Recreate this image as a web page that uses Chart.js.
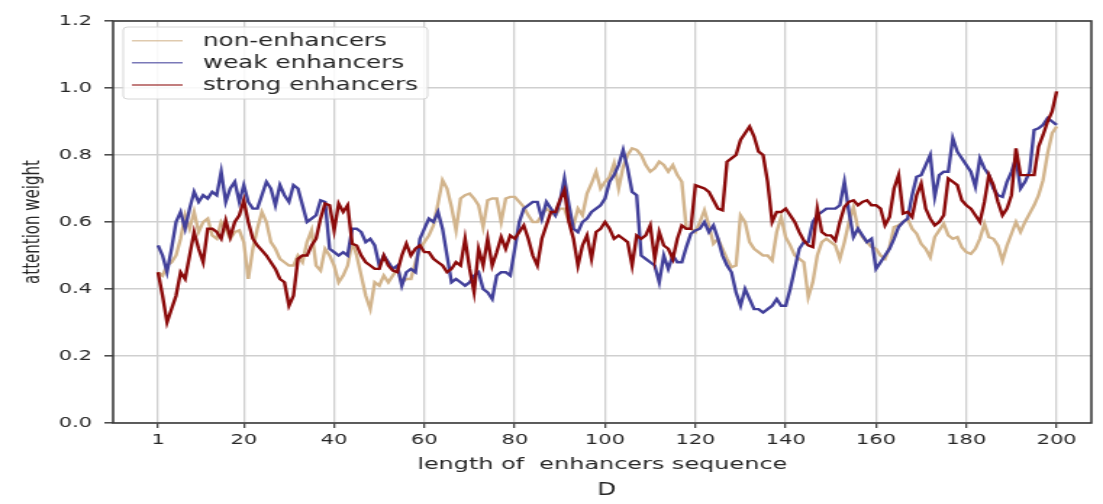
<!DOCTYPE html>
<html>
<head>
<meta charset="utf-8">
<script src="https://cdn.jsdelivr.net/npm/chart.js@4/dist/chart.umd.min.js"></script>
<style>
  html, body { margin: 0; padding: 0; background: #fff; overflow: hidden; }
  /* the figure is laid out on a narrower canvas and widened to the page */
  #wrap { position: absolute; left: 0; top: 0; width: 761px; height: 504px;
          transform: scaleX(1.4494); transform-origin: 0 0; filter: blur(0.5px); }
  canvas { display: block; }
</style>
</head>
<body>
<div id="wrap"><canvas id="c" width="761" height="504"></canvas></div>
<script>
// sequence positions 1..200
const positions = Array.from({ length: 200 }, (_, i) => i + 1);

const nonEnhancers = [
  0.45,0.44,0.47,0.48,0.50,0.55,0.62,0.58,0.63,0.57,
  0.60,0.61,0.56,0.55,0.60,0.58,0.55,0.57,0.575,0.54,
  0.43,0.52,0.58,0.63,0.60,0.54,0.52,0.49,0.48,0.47,
  0.47,0.50,0.48,0.54,0.575,0.47,0.455,0.52,0.50,0.47,
  0.42,0.44,0.47,0.54,0.50,0.44,0.38,0.34,0.42,0.41,
  0.44,0.42,0.44,0.46,0.42,0.43,0.43,0.48,0.52,0.54,
  0.56,0.59,0.655,0.725,0.70,0.645,0.575,0.67,0.68,0.685,
  0.67,0.65,0.585,0.665,0.67,0.67,0.60,0.67,0.675,0.675,
  0.66,0.645,0.62,0.60,0.60,0.62,0.64,0.63,0.62,0.64,
  0.64,0.60,0.59,0.64,0.62,0.685,0.715,0.75,0.70,0.72,
  0.735,0.775,0.70,0.765,0.80,0.82,0.815,0.80,0.77,0.75,
  0.76,0.78,0.77,0.75,0.77,0.74,0.72,0.58,0.58,0.57,
  0.60,0.635,0.59,0.535,0.55,0.52,0.49,0.465,0.47,0.62,
  0.60,0.54,0.52,0.51,0.50,0.50,0.485,0.57,0.615,0.555,
  0.53,0.50,0.49,0.48,0.375,0.42,0.50,0.54,0.55,0.54,
  0.53,0.49,0.54,0.60,0.645,0.58,0.555,0.54,0.525,0.52,
  0.50,0.49,0.525,0.585,0.59,0.60,0.61,0.58,0.565,0.535,
  0.52,0.495,0.555,0.575,0.595,0.56,0.55,0.555,0.525,0.51,
  0.505,0.52,0.55,0.595,0.555,0.55,0.53,0.485,0.53,0.565,
  0.60,0.57,0.60,0.625,0.65,0.68,0.725,0.805,0.865,0.885
];

const weakEnhancers = [
  0.53,0.50,0.45,0.52,0.60,0.63,0.58,0.64,0.69,0.66,
  0.68,0.67,0.69,0.68,0.75,0.66,0.70,0.72,0.66,0.71,
  0.66,0.64,0.64,0.68,0.72,0.70,0.65,0.71,0.68,0.66,
  0.71,0.70,0.65,0.60,0.61,0.62,0.665,0.66,0.52,0.51,
  0.50,0.51,0.50,0.58,0.58,0.57,0.54,0.55,0.53,0.47,
  0.50,0.48,0.46,0.47,0.41,0.45,0.46,0.45,0.55,0.58,
  0.61,0.60,0.63,0.58,0.50,0.42,0.43,0.42,0.41,0.42,
  0.44,0.45,0.40,0.39,0.37,0.44,0.45,0.45,0.44,0.52,
  0.60,0.64,0.65,0.66,0.66,0.61,0.66,0.64,0.62,0.66,
  0.73,0.65,0.58,0.57,0.60,0.61,0.63,0.64,0.65,0.67,
  0.72,0.74,0.77,0.815,0.76,0.69,0.68,0.50,0.49,0.48,
  0.47,0.42,0.50,0.46,0.50,0.48,0.48,0.525,0.565,0.575,
  0.58,0.60,0.57,0.59,0.55,0.50,0.47,0.45,0.39,0.35,
  0.40,0.37,0.34,0.34,0.33,0.34,0.35,0.37,0.35,0.35,
  0.40,0.46,0.52,0.54,0.54,0.60,0.62,0.63,0.64,0.64,
  0.64,0.65,0.72,0.63,0.555,0.58,0.56,0.54,0.55,0.46,
  0.48,0.50,0.52,0.55,0.585,0.60,0.61,0.68,0.735,0.74,
  0.77,0.80,0.675,0.74,0.75,0.75,0.85,0.81,0.79,0.77,
  0.75,0.705,0.79,0.76,0.74,0.70,0.68,0.675,0.72,0.75,
  0.79,0.70,0.72,0.75,0.875,0.88,0.89,0.91,0.90,0.89
];

const strongEnhancers = [
  0.45,0.38,0.30,0.34,0.38,0.45,0.43,0.50,0.57,0.52,
  0.48,0.58,0.58,0.57,0.55,0.605,0.555,0.60,0.62,0.665,
  0.60,0.55,0.53,0.515,0.50,0.48,0.46,0.43,0.42,0.35,
  0.38,0.49,0.50,0.50,0.53,0.55,0.61,0.655,0.65,0.575,
  0.655,0.63,0.65,0.535,0.53,0.50,0.48,0.47,0.46,0.46,
  0.50,0.47,0.455,0.45,0.50,0.535,0.50,0.52,0.53,0.51,
  0.51,0.49,0.48,0.47,0.45,0.46,0.48,0.47,0.55,0.46,
  0.39,0.52,0.47,0.55,0.47,0.51,0.555,0.52,0.56,0.55,
  0.57,0.59,0.55,0.50,0.47,0.55,0.59,0.63,0.63,0.665,
  0.695,0.60,0.55,0.47,0.53,0.56,0.49,0.57,0.58,0.60,
  0.58,0.55,0.56,0.55,0.54,0.47,0.56,0.55,0.56,0.59,
  0.49,0.57,0.53,0.52,0.49,0.55,0.59,0.58,0.58,0.71,
  0.705,0.70,0.69,0.665,0.64,0.635,0.78,0.79,0.80,0.845,
  0.865,0.885,0.855,0.81,0.80,0.72,0.60,0.63,0.63,0.64,
  0.62,0.60,0.57,0.545,0.53,0.525,0.64,0.57,0.56,0.56,
  0.545,0.60,0.645,0.66,0.665,0.65,0.66,0.665,0.65,0.65,
  0.64,0.59,0.615,0.70,0.74,0.625,0.63,0.615,0.68,0.715,
  0.64,0.61,0.59,0.60,0.62,0.73,0.72,0.71,0.665,0.65,
  0.64,0.62,0.60,0.66,0.74,0.71,0.66,0.62,0.64,0.68,
  0.82,0.74,0.74,0.74,0.74,0.825,0.86,0.90,0.93,0.99
];

const xTickValues = [1, 20, 40, 60, 80, 100, 120, 140, 160, 180, 200];
const yTickValues = [0, 0.2, 0.4, 0.6, 0.8, 1.0, 1.2];
const seriesLabels = ['non-enhancers', 'weak enhancers', 'strong enhancers'];
const xTitle = 'length of  enhancers sequence';
const yTitle = 'attention weight';
const panelLetter = 'D';

const FONT = '"DejaVu Sans", "Liberation Sans", sans-serif';
const TEXT = '#262626';

const toPoints = vals => vals.map((v, i) => ({ x: positions[i], y: v }));

// frame, legend box and panel letter
const decorations = {
  id: 'decorations',
  afterDatasetsDraw(chart) {
    const ctx = chart.ctx;
    const a = chart.chartArea;
    ctx.save();
    // axes frame
    ctx.strokeStyle = '#3c3c3c';
    ctx.lineWidth = 1.6;
    ctx.strokeRect(a.left, a.top, a.right - a.left, a.bottom - a.top);

    // legend
    const bx = a.left + 7, by = a.top + 6, bw = 210, bh = 72, r = 3;
    ctx.beginPath();
    ctx.moveTo(bx + r, by);
    ctx.lineTo(bx + bw - r, by); ctx.quadraticCurveTo(bx + bw, by, bx + bw, by + r);
    ctx.lineTo(bx + bw, by + bh - r); ctx.quadraticCurveTo(bx + bw, by + bh, bx + bw - r, by + bh);
    ctx.lineTo(bx + r, by + bh); ctx.quadraticCurveTo(bx, by + bh, bx, by + bh - r);
    ctx.lineTo(bx, by + r); ctx.quadraticCurveTo(bx, by, bx + r, by);
    ctx.closePath();
    ctx.fillStyle = 'rgba(255,255,255,0.85)';
    ctx.fill();
    ctx.strokeStyle = '#d6d6d6';
    ctx.lineWidth = 1;
    ctx.stroke();

    const rows = [13.7, 35.7, 58];
    ctx.font = '17px ' + FONT;
    ctx.textBaseline = 'middle';
    ctx.textAlign = 'left';
    chart.data.datasets.forEach((ds, i) => {
      const y = by + rows[i];
      ctx.globalAlpha = 0.7;
      ctx.strokeStyle = ds.borderColor;
      ctx.lineWidth = 1.6;
      ctx.beginPath();
      ctx.moveTo(bx + 6, y);
      ctx.lineTo(bx + 41, y);
      ctx.stroke();
      ctx.globalAlpha = 1;
      ctx.fillStyle = TEXT;
      ctx.fillText(ds.label, bx + 55, y + 0.5);
    });

    // panel letter
    ctx.font = '17px ' + FONT;
    ctx.textAlign = 'center';
    ctx.fillText(panelLetter, (a.left + a.right) / 2 + 3, 491);
    ctx.restore();
  }
};

new Chart(document.getElementById('c'), {
  type: 'line',
  data: {
    datasets: [
      { label: seriesLabels[0], data: toPoints(nonEnhancers), borderColor: '#d2b48c', order: 2 },
      { label: seriesLabels[1], data: toPoints(weakEnhancers), borderColor: '#42409a', order: 1 },
      { label: seriesLabels[2], data: toPoints(strongEnhancers), borderColor: '#8b0a0a', order: 0 }
    ].map(d => Object.assign(d, { borderWidth: 2.4, pointRadius: 0, tension: 0, fill: false }))
  },
  options: {
    responsive: false,
    animation: false,
    devicePixelRatio: 1,
    layout: { padding: { top: 21, right: 8, bottom: 23, left: 0 } },
    plugins: { legend: { display: false }, tooltip: { enabled: false } },
    scales: {
      x: {
        type: 'linear',
        min: -8.95,
        max: 207.7,
        afterFit(s) { s.height = 58; },
        afterBuildTicks(s) { s.ticks = xTickValues.map(v => ({ value: v })); },
        ticks: {
          autoSkip: false, maxRotation: 0, minRotation: 0, padding: 4,
          color: TEXT, font: { family: FONT, size: 14.5 },
          callback: v => String(v)
        },
        grid: { color: '#cfcfcf', lineWidth: 1.3, tickLength: 5, tickColor: '#444', tickWidth: 1.3 },
        border: { display: false },
        title: {
          display: true, text: xTitle, color: TEXT,
          font: { family: FONT, size: 16.5 }, padding: { top: 0, bottom: 6 }
        }
      },
      y: {
        min: 0,
        max: 1.2,
        afterFit(s) { s.width = 78; },
        afterBuildTicks(s) { s.ticks = yTickValues.map(v => ({ value: v })); },
        ticks: {
          padding: 8.5, color: TEXT, font: { family: FONT, size: 14.5 },
          callback: v => Number(v).toFixed(1)
        },
        grid: { color: '#cfcfcf', lineWidth: 1.6, tickLength: 6, tickColor: '#444', tickWidth: 1.5 },
        border: { display: false },
        title: {
          display: true, text: yTitle, color: TEXT,
          font: { family: FONT, size: 15 }, padding: { top: 14, bottom: 0 }
        }
      }
    }
  },
  plugins: [decorations]
});
</script>
</body>
</html>
